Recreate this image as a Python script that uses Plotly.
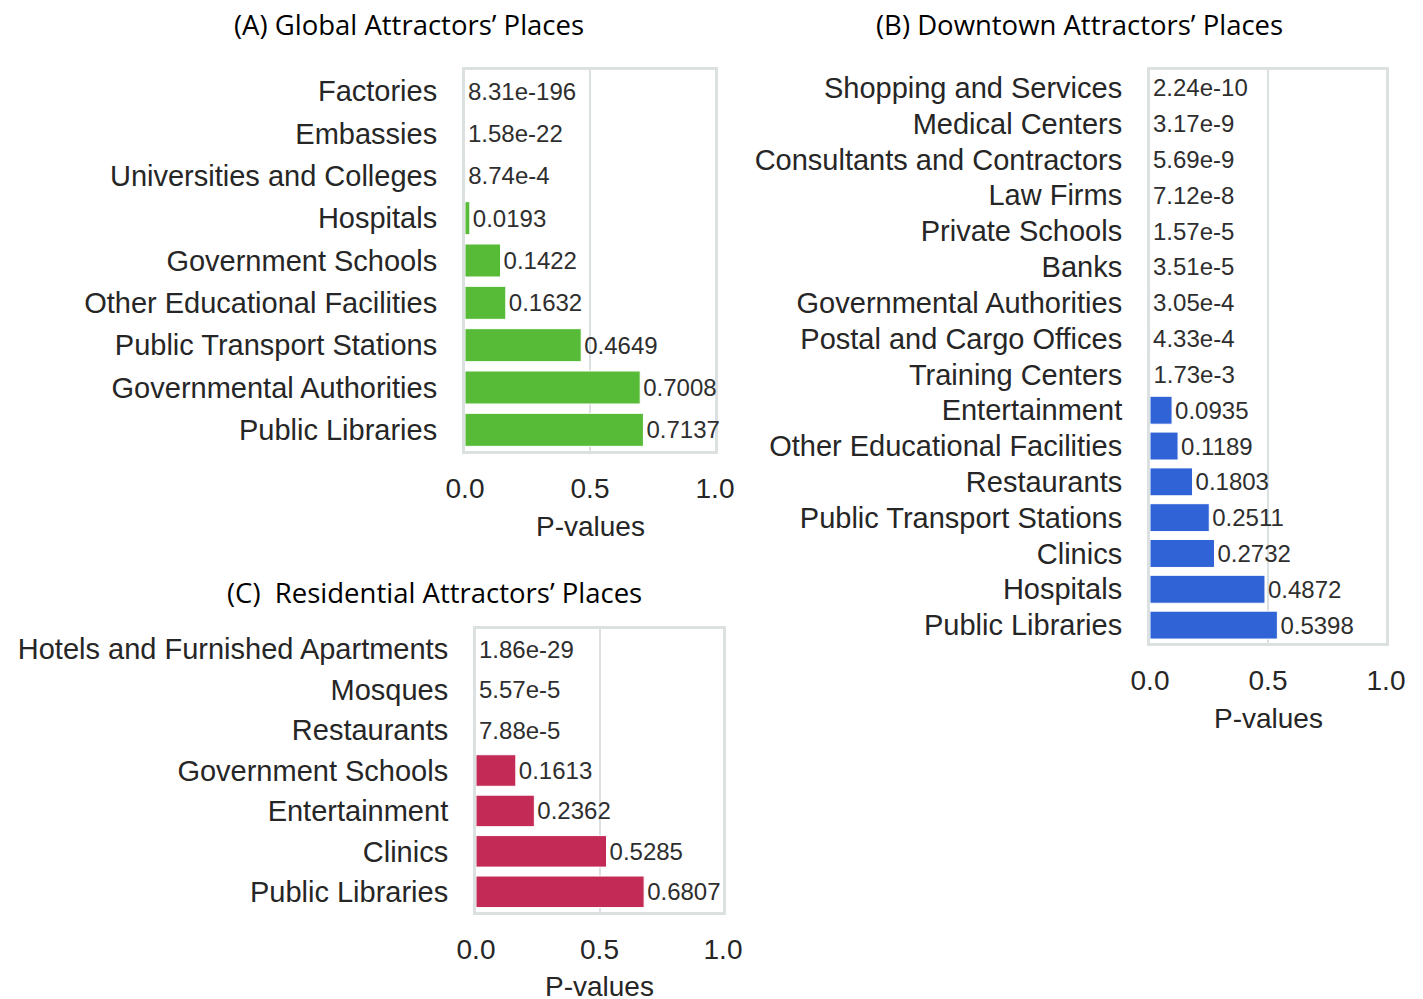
import plotly.graph_objects as go

W, H = 1423, 999

# ---------------- data ----------------
cats_a = ["Factories", "Embassies", "Universities and Colleges", "Hospitals",
          "Government Schools", "Other Educational Facilities",
          "Public Transport Stations", "Governmental Authorities", "Public Libraries"]
vals_a = [8.31e-196, 1.58e-22, 8.74e-4, 0.0193, 0.1422, 0.1632, 0.4649, 0.7008, 0.7137]

cats_b = ["Shopping and Services", "Medical Centers", "Consultants and Contractors",
          "Law Firms", "Private Schools", "Banks", "Governmental Authorities",
          "Postal and Cargo Offices", "Training Centers", "Entertainment",
          "Other Educational Facilities", "Restaurants", "Public Transport Stations",
          "Clinics", "Hospitals", "Public Libraries"]
vals_b = [2.24e-10, 3.17e-9, 5.69e-9, 7.12e-8, 1.57e-5, 3.51e-5, 3.05e-4, 4.33e-4,
          1.73e-3, 0.0935, 0.1189, 0.1803, 0.2511, 0.2732, 0.4872, 0.5398]

cats_c = ["Hotels and Furnished Apartments", "Mosques", "Restaurants",
          "Government Schools", "Entertainment", "Clinics", "Public Libraries"]
vals_c = [1.86e-29, 5.57e-5, 7.88e-5, 0.1613, 0.2362, 0.5285, 0.6807]

titles = ["(A) Global Attractors’ Places", "(B) Downtown Attractors’ Places",
          "(C)\u00a0\u00a0Residential Attractors’ Places"]
x_ticks = [0.0, 0.5, 1.0]
x_ticklabels = ["0.0", "0.5", "1.0"]
x_title = "P-values"

# ---------------- style ----------------
GREEN = "#58bb38"
BLUE = "#2f63d6"
RED = "#c32a56"
FRAME = "#dbe1e1"
TXT = "#262626"
LABEL_FONT = "Liberation Sans, Arial, Helvetica, sans-serif"
TITLE_FONT = "Open Sans, Noto Sans, sans-serif"


def fmt(v):
    if v < 0.01:
        s = "{:.2e}".format(v)
        mant, exp = s.split("e")
        sign = "-" if exp.startswith("-") else ""
        return mant + "e" + sign + str(int(exp.lstrip("+-")))
    return "{:.4f}".format(v)


# panel boxes in pixels: left, right, top, bottom (inner plot area)
boxes = {
    "a": (465, 715, 70, 451),
    "b": (1150, 1386, 70, 643),
    "c": (476, 723, 629, 912),
}

fig = go.Figure()

panels = [
    ("a", cats_a, vals_a, GREEN, "x", "y", titles[0]),
    ("b", cats_b, vals_b, BLUE, "x2", "y2", titles[1]),
    ("c", cats_c, vals_c, RED, "x3", "y3", titles[2]),
]

title_pos = {"a": (409, 24), "b": (1079, 24), "c": (434, 592)}
xtitle_y = {"a": 526, "b": 718, "c": 986}

for key, cats, vals, color, xa, ya, title in panels:
    fig.add_trace(go.Bar(
        y=cats, x=vals, orientation="h",
        marker=dict(color=color, line=dict(color="white", width=1)),
        width=0.78,
        text=[fmt(v) for v in vals],
        textposition="outside",
        textfont=dict(family=LABEL_FONT, size=24, color="#2e2e2e"),
        constraintext="none",
        cliponaxis=False,
        xaxis=xa, yaxis=ya, showlegend=False, hoverinfo="skip",
    ))
    l, r, t, b = boxes[key]
    xd = [l / W, r / W]
    yd = [1 - b / H, 1 - t / H]
    n = len(cats)
    axx = dict(domain=xd, range=[0, 1], tickvals=x_ticks, ticktext=x_ticklabels,
               showgrid=True, gridcolor=FRAME, gridwidth=2, zeroline=False,
               showline=True, linecolor=FRAME, linewidth=3, mirror=True,
               ticks="", ticklabelstandoff=10, automargin=False, layer="below traces",
               tickfont=dict(family=LABEL_FONT, size=28, color=TXT),
               anchor=ya, fixedrange=True)
    axy = dict(domain=yd, range=[n - 0.5, -0.5], type="category",
               categoryorder="array", categoryarray=cats,
               showgrid=False, zeroline=False,
               showline=True, linecolor=FRAME, linewidth=3, mirror=True,
               ticks="", ticklabelstandoff=19, automargin=False, layer="below traces",
               tickfont=dict(family=LABEL_FONT, size=29, color=TXT),
               anchor=xa, fixedrange=True)
    xname = "xaxis" if xa == "x" else "xaxis" + xa[1:]
    yname = "yaxis" if ya == "y" else "yaxis" + ya[1:]
    fig.layout[xname] = axx
    fig.layout[yname] = axy

    tx, ty = title_pos[key]
    fig.add_annotation(x=tx / W, y=1 - ty / H, xref="paper", yref="paper",
                       text=title, showarrow=False, xanchor="center", yanchor="middle",
                       font=dict(family=TITLE_FONT, size=27.5, color="#000000"))
    fig.add_annotation(x=(l + r) / 2 / W, y=1 - xtitle_y[key] / H, xref="paper", yref="paper",
                       text=x_title, showarrow=False, xanchor="center", yanchor="middle",
                       font=dict(family=LABEL_FONT, size=28, color=TXT))

fig.update_layout(
    width=W, height=H,
    margin=dict(l=0, r=0, t=0, b=0, autoexpand=False),
    paper_bgcolor="white", plot_bgcolor="white",
    bargap=0.2,
)

fig.write_html("out.html",
               config={"displayModeBar": False},
               post_script="document.body.style.margin='0px';document.body.style.overflow='hidden';")
